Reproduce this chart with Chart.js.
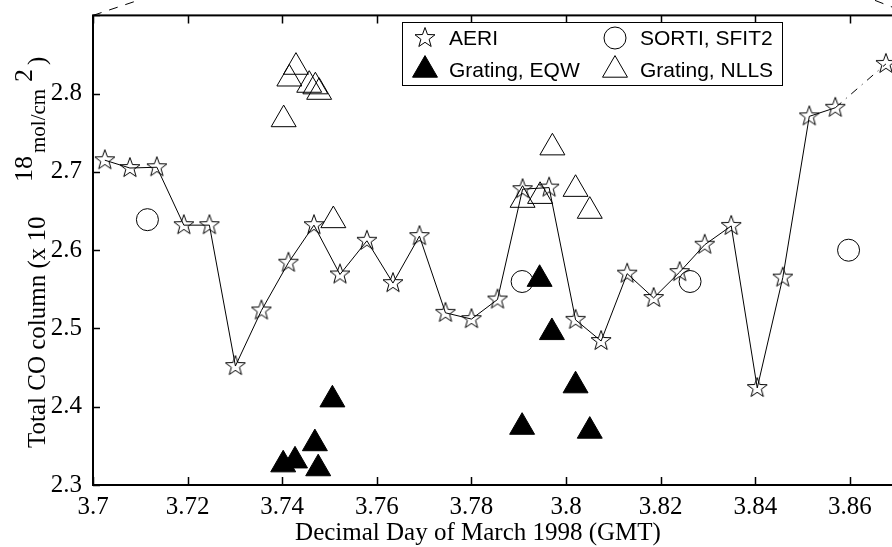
<!DOCTYPE html>
<html>
<head>
<meta charset="utf-8">
<script src="https://cdn.jsdelivr.net/npm/chart.js@4"></script>
<style>
  html, body { margin: 0; padding: 0; background: #fff; overflow: hidden; }
  #wrap { width: 960px; height: 547px; }
</style>
</head>
<body>
<div id="wrap"><canvas id="c" width="960" height="547"></canvas></div>
<script>
// Total CO column retrievals, March 1998 (decimal day, x 10^18 mol/cm^2)
const aeriDay = [3.7025, 3.7078, 3.7135, 3.7192, 3.7246, 3.7301, 3.7356, 3.7413, 3.7467, 3.7522,
                 3.7579, 3.7634, 3.7690, 3.7745, 3.7800, 3.7855, 3.7908, 3.7964, 3.8020, 3.8074,
                 3.8129, 3.8185, 3.8240, 3.8293, 3.8349, 3.8404, 3.8458, 3.8514, 3.8569, 3.8676];
const aeriCO  = [2.715, 2.705, 2.706, 2.632, 2.632, 2.452, 2.523, 2.584, 2.632, 2.569,
                 2.612, 2.558, 2.618, 2.520, 2.512, 2.537, 2.678, 2.680, 2.511, 2.484,
                 2.570, 2.539, 2.572, 2.607, 2.631, 2.424, 2.565, 2.771, 2.782, 2.838];

const sortiDay = [3.7115, 3.7907, 3.8262, 3.8597];
const sortiCO  = [2.639, 2.560, 2.560, 2.600];

const eqwDay = [3.7402, 3.7427, 3.7469, 3.7476, 3.7506, 3.7907, 3.7944, 3.7970, 3.8020, 3.8050];
const eqwCO  = [2.326, 2.331, 2.353, 2.321, 2.409, 2.374, 2.563, 2.495, 2.427, 2.369];

const nllsDay = [3.7403, 3.7415, 3.7429, 3.7457, 3.7470, 3.7478, 3.7508, 3.7908, 3.7945, 3.7971, 3.8020, 3.8050];
const nllsCO  = [2.767, 2.819, 2.834, 2.811, 2.809, 2.802, 2.638, 2.664, 2.669, 2.731, 2.678, 2.650];

const seriesNames = ['AERI', 'SORTI, SFIT2', 'Grating, EQW', 'Grating, NLLS'];

const xTickValues = [3.70, 3.72, 3.74, 3.76, 3.78, 3.80, 3.82, 3.84, 3.86, 3.88];
const xTickLabels = ['3.7', '3.72', '3.74', '3.76', '3.78', '3.8', '3.82', '3.84', '3.86', ''];
const yTickValues = [2.3, 2.4, 2.5, 2.6, 2.7, 2.8, 2.9];
const yTickLabels = ['2.3', '2.4', '2.5', '2.6', '2.7', '2.8', ''];

const xTitle = 'Decimal Day of March 1998 (GMT)';

const toPoints = (xs, ys) => xs.map((x, i) => ({ x: x, y: ys[i] }));

// hollow five-pointed star used as a point style
function makeStar(R, r) {
  const s = 2 * Math.ceil(R + 2);
  const c = document.createElement('canvas');
  c.width = s; c.height = s;
  const g = c.getContext('2d');
  g.translate(s / 2, s / 2);
  g.beginPath();
  for (let i = 0; i < 10; i++) {
    const a = -Math.PI / 2 + i * Math.PI / 5;
    const rad = (i % 2 === 0) ? R : r;
    g.lineTo(rad * Math.cos(a), rad * Math.sin(a));
  }
  g.closePath();
  g.strokeStyle = '#000';
  g.lineWidth = 1;
  g.stroke();
  return c;
}
const starImg = makeStar(10.5, 4.3);

const SERIF = '"Liberation Serif", "Times New Roman", serif';
const SANS = '"Liberation Sans", Arial, sans-serif';

// inward ticks, plot frame, axis titles and boxed legend
const framePlugin = {
  id: 'framePlugin',
  afterDraw(chart) {
    const ctx = chart.ctx;
    const a = chart.chartArea;
    const xs = chart.scales.x, ys = chart.scales.y;
    ctx.save();
    ctx.strokeStyle = '#000';
    ctx.lineWidth = 1.5;
    ctx.beginPath();
    xs.ticks.forEach(t => {
      const px = Math.round(xs.getPixelForValue(t.value)) + 0.5;
      ctx.moveTo(px, a.bottom); ctx.lineTo(px, a.bottom - 8);
      ctx.moveTo(px, a.top); ctx.lineTo(px, a.top + 8);
    });
    ys.ticks.forEach(t => {
      const py = Math.round(ys.getPixelForValue(t.value)) + 0.5;
      ctx.moveTo(a.left, py); ctx.lineTo(a.left + 7, py);
      ctx.moveTo(a.right, py); ctx.lineTo(a.right - 7, py);
    });
    ctx.stroke();

    ctx.lineWidth = 2;
    ctx.strokeRect(a.left, a.top, a.right - a.left, a.bottom - a.top);

    // dashed edges of the surrounding frame above the plot
    ctx.lineWidth = 1;
    ctx.setLineDash([9, 8]);
    ctx.beginPath();
    ctx.moveTo(a.left, a.top); ctx.lineTo(a.left + 48, a.top - 16);
    ctx.moveTo(a.left + 782, a.top - 15); ctx.lineTo(a.left + 800, a.top - 8);
    ctx.stroke();
    ctx.setLineDash([]);

    // x-axis title
    ctx.fillStyle = '#000';
    ctx.font = '25px ' + SERIF;
    ctx.textAlign = 'center';
    ctx.textBaseline = 'alphabetic';
    ctx.fillText(xTitle, 478, 540);

    // y-axis title with raised exponents, reading bottom to top
    ctx.save();
    ctx.rotate(-Math.PI / 2);
    ctx.textAlign = 'left';
    const pieces = [
      { t: 'Total CO column (x 10', y: 448, base: 45, size: 25 },
      { t: '18', y: 182, base: 32, size: 26 },
      { t: 'mol/cm', y: 153, base: 45, size: 21 },
      { t: '2', y: 82, base: 32, size: 26 },
      { t: ')', y: 65, base: 45, size: 25 }
    ];
    pieces.forEach(p => {
      ctx.font = p.size + 'px ' + SERIF;
      ctx.fillText(p.t, -p.y, p.base);
    });
    ctx.restore();

    // legend box
    const lx = 402, ly = 22, lw = 380, lh = 63;
    ctx.fillStyle = '#fff';
    ctx.fillRect(lx, ly, lw, lh);
    ctx.lineWidth = 1;
    ctx.strokeStyle = '#000';
    ctx.strokeRect(lx + 0.5, ly + 0.5, lw, lh);
    const slots = [
      { ds: 0, sx: 425, tx: 449, y: 38 },
      { ds: 1, sx: 615, tx: 640, y: 38 },
      { ds: 2, sx: 425, tx: 449, y: 70 },
      { ds: 3, sx: 615, tx: 640, y: 70 }
    ];
    ctx.font = '21px ' + SANS;
    ctx.textBaseline = 'middle';
    ctx.textAlign = 'left';
    slots.forEach(s => {
      const d = chart.data.datasets[s.ds];
      ctx.save();
      ctx.fillStyle = d.pointBackgroundColor;
      ctx.strokeStyle = '#000';
      ctx.lineWidth = 1;
      Chart.helpers.drawPoint(ctx, {
        pointStyle: d.pointStyle, radius: d.pointRadius, borderWidth: 1, rotation: 0
      }, s.sx, s.y);
      ctx.restore();
      ctx.fillStyle = '#000';
      ctx.fillText(d.label, s.tx, s.y + 1);
    });
    ctx.restore();
  }
};

new Chart(document.getElementById('c'), {
  type: 'scatter',
  data: {
    datasets: [
      {
        label: seriesNames[0],
        data: toPoints(aeriDay, aeriCO),
        showLine: true,
        borderColor: '#000',
        borderWidth: 1,
        pointStyle: starImg,
        pointRadius: 10,
        pointBackgroundColor: 'rgba(0,0,0,0)',
        segment: {
          borderDash: c => (c.p0DataIndex >= 28 ? [8, 6, 1, 6] : undefined)
        },
        order: 3
      },
      {
        label: seriesNames[1],
        data: toPoints(sortiDay, sortiCO),
        showLine: false,
        pointStyle: 'circle',
        pointRadius: 11,
        pointBorderWidth: 1,
        pointBorderColor: '#000',
        pointBackgroundColor: 'rgba(0,0,0,0)',
        order: 4
      },
      {
        label: seriesNames[2],
        data: toPoints(eqwDay, eqwCO),
        showLine: false,
        pointStyle: 'triangle',
        pointRadius: 14.4,
        pointBorderWidth: 1,
        pointBorderColor: '#000',
        pointBackgroundColor: '#000',
        order: 1
      },
      {
        label: seriesNames[3],
        data: toPoints(nllsDay, nllsCO),
        showLine: false,
        pointStyle: 'triangle',
        pointRadius: 14.4,
        pointBorderWidth: 1,
        pointBorderColor: '#000',
        pointBackgroundColor: 'rgba(0,0,0,0)',
        order: 2
      }
    ]
  },
  options: {
    responsive: false,
    animation: false,
    devicePixelRatio: 1,
    layout: { padding: { top: 14, right: 12, left: 0, bottom: 0 } },
    plugins: { legend: { display: false }, tooltip: { enabled: false } },
    elements: { point: { hoverRadius: 10 } },
    scales: {
      x: {
        type: 'linear',
        min: 3.70, max: 3.88,
        afterBuildTicks: s => { s.ticks = xTickValues.map(v => ({ value: v })); },
        afterFit: s => { s.height = 62; s.paddingLeft = 0; s.paddingRight = 0; },
        grid: { display: false, drawTicks: false },
        border: { display: false },
        ticks: {
          color: '#000',
          font: { family: SERIF, size: 25, lineHeight: 1.2 },
          padding: 7,
          maxRotation: 0,
          autoSkip: false,
          callback: (v, i) => xTickLabels[i]
        }
      },
      y: {
        type: 'linear',
        min: 2.3, max: 2.9,
        afterBuildTicks: s => { s.ticks = yTickValues.map(v => ({ value: v })); },
        afterFit: s => { s.width = 93; s.paddingTop = 0; s.paddingBottom = 0; },
        grid: { display: false, drawTicks: false },
        border: { display: false },
        ticks: {
          color: '#000',
          font: { family: SERIF, size: 25, lineHeight: 1.2 },
          padding: 11,
          autoSkip: false,
          callback: (v, i) => yTickLabels[i]
        }
      }
    }
  },
  plugins: [framePlugin]
});
</script>
</body>
</html>
